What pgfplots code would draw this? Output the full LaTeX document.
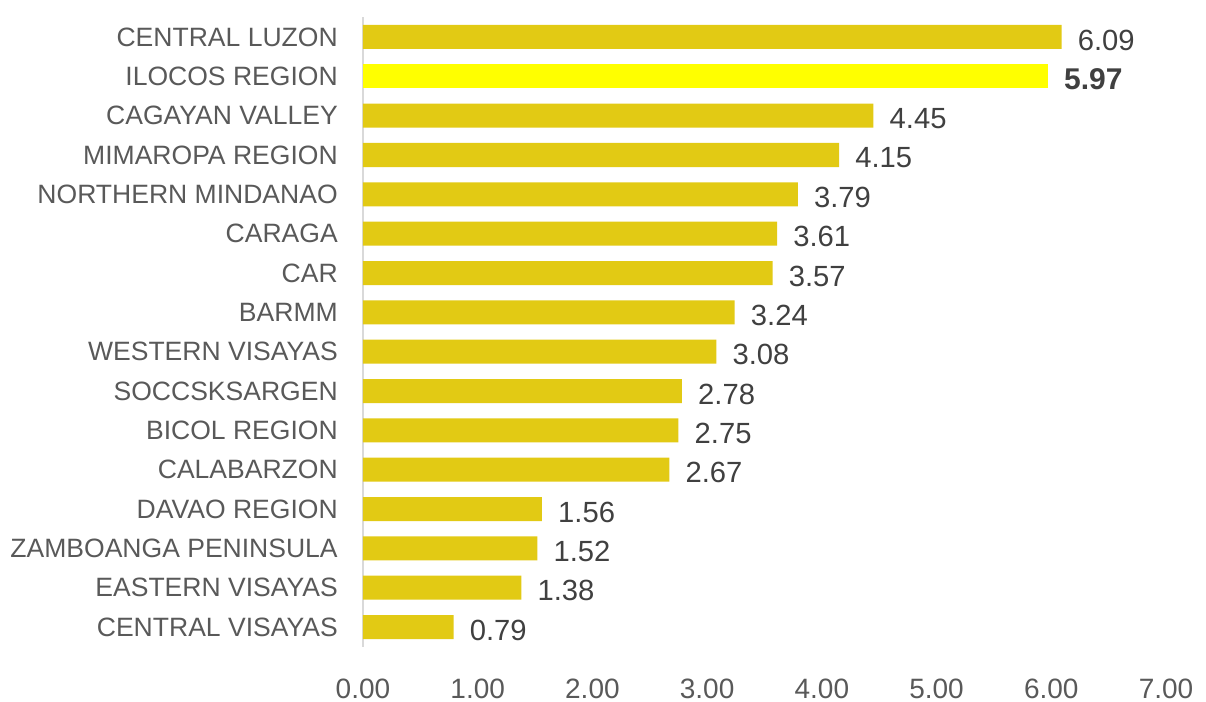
\documentclass[border=0pt]{standalone}
\usepackage{pgfplots}
\pgfplotsset{compat=1.18}
\usepackage{fontspec}
\setmainfont{Liberation Sans}
\definecolor{bargold}{HTML}{E2CA14}
\definecolor{baryellow}{HTML}{FFFF00}
\definecolor{axisgray}{HTML}{D9D9D9}
\definecolor{labgray}{HTML}{595959}
\definecolor{valgray}{HTML}{404040}
\begin{document}
\begin{tikzpicture}
\path[use as bounding box] (-272.25pt,-41.5pt) rectangle (632.25pt,485pt);
\begin{axis}[
  at={(0,0)}, anchor=south west,
  scale only axis,
  width=602.25pt, height=472pt,
  xbar, bar shift=0pt, bar width=18pt,
  xmin=0, xmax=7,
  ymin=-0.5, ymax=15.5,
  y dir=reverse,
  xtick={0,1,2,3,4,5,6,7},
  ytick={0,...,15},
  yticklabels={CENTRAL LUZON,ILOCOS REGION,CAGAYAN VALLEY,MIMAROPA REGION,NORTHERN MINDANAO,CARAGA,CAR,BARMM,WESTERN VISAYAS,SOCCSKSARGEN,BICOL REGION,CALABARZON,DAVAO REGION,ZAMBOANGA PENINSULA,EASTERN VISAYAS,CENTRAL VISAYAS},
  major tick length=0pt,
  axis x line*=bottom,
  axis y line*=left,
  x axis line style={draw=none},
  y axis line style={draw=axisgray, line width=1.5pt, -},
  xticklabel style={font=\fontsize{21}{25}\selectfont, text=labgray, inner sep=0pt, yshift=-24pt,
    /pgf/number format/fixed, /pgf/number format/fixed zerofill, /pgf/number format/precision=2, /pgf/number format/assume math mode=true},
  yticklabel style={font=\fontsize{19.9}{23}\selectfont, text=labgray, inner sep=0pt, xshift=-18.75pt},
  nodes near coords,
  nodes near coords style={anchor=west, inner sep=0pt, xshift=12pt, yshift=-2.25pt,
    font=\fontsize{21.9}{26}\selectfont, text=valgray,
    /pgf/number format/fixed, /pgf/number format/fixed zerofill, /pgf/number format/precision=2, /pgf/number format/assume math mode=true},
  clip=false,
]
\addplot[fill=bargold, draw=none] coordinates {
  (6.09,0) (4.45,2) (4.15,3) (3.79,4) (3.61,5) (3.57,6) (3.24,7) (3.08,8)
  (2.78,9) (2.75,10) (2.67,11) (1.56,12) (1.52,13) (1.38,14) (0.79,15)
};
\addplot[fill=baryellow, draw=none, nodes near coords style={font=\fontsize{22.5}{26}\selectfont\bfseries}] coordinates {
  (5.97,1)
};
\end{axis}
\end{tikzpicture}
\end{document}
